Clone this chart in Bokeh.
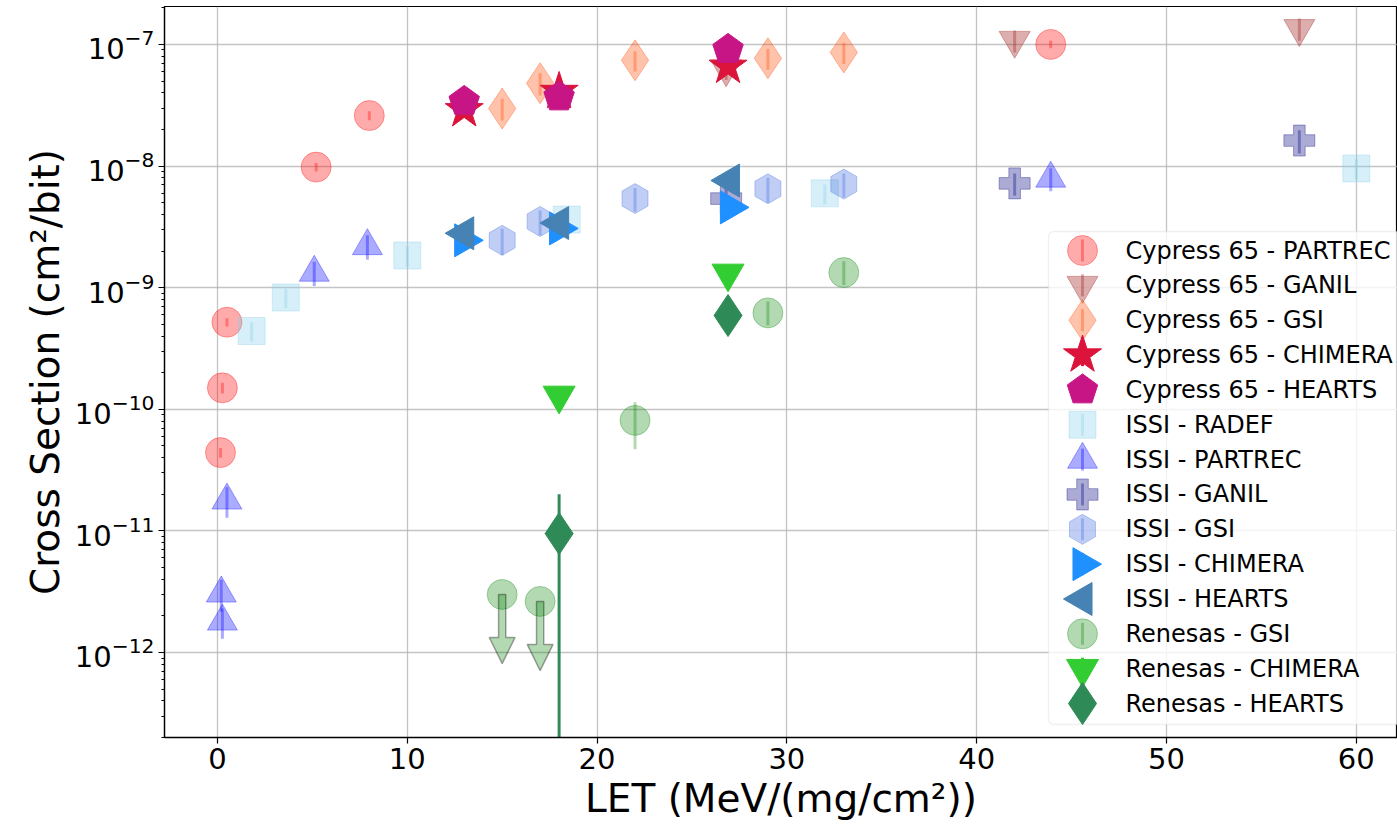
import numpy as np
from bokeh.plotting import figure
from bokeh.models import (Range1d, LinearScale, FixedTicker, ColumnDataSource,
                          BoxAnnotation)
from bokeh.core.properties import value
from bokeh.embed import file_html
from bokeh.resources import INLINE

# ---------------- data ----------------
cyp_partrec_x = [0.16, 0.26, 0.5, 5.2, 8.0, 43.9]
cyp_partrec_y = [4.4e-11, 1.5e-10, 5.2e-10, 9.8e-9, 2.6e-8, 1.0e-7]
cyp_partrec_err = [4e-12, 1.5e-11, 4e-11, 8e-10, 2.2e-9, 7e-9]

cyp_ganil_x = [26.8, 42.0, 57.0]
cyp_ganil_y = [6.3e-8, 1.08e-7, 1.35e-7]
cyp_ganil_err = [1.2e-8, 2.2e-8, 2.8e-8]

cyp_gsi_x = [15.0, 17.0, 22.0, 29.0, 33.0]
cyp_gsi_y = [2.97e-8, 4.8e-8, 7.4e-8, 7.7e-8, 8.6e-8]
cyp_gsi_err = [6e-9, 1e-8, 1.4e-8, 1.5e-8, 1.7e-8]

cyp_chimera_x = [13.0, 18.0, 26.9]
cyp_chimera_y = [2.9e-8, 4.1e-8, 6.6e-8]
cyp_chimera_err = [2e-9, 3e-9, 5e-9]

cyp_hearts_x = [13.0, 18.0, 26.9]
cyp_hearts_y = [3.4e-8, 3.7e-8, 9.1e-8]
cyp_hearts_err = [2e-9, 3e-9, 6e-9]

issi_radef_x = [1.8, 3.6, 10.0, 18.4, 32.0, 60.0]
issi_radef_y = [4.4e-10, 8.3e-10, 1.84e-9, 3.63e-9, 5.96e-9, 9.55e-9]
issi_radef_err = [8e-11, 1.5e-10, 3.5e-10, 7e-10, 1.1e-9, 1.8e-9]

issi_partrec_x = [0.2, 0.26, 0.5, 5.1, 7.9, 43.9]
issi_partrec_y = [3.06e-12, 1.8e-12, 1.78e-11, 1.33e-9, 2.2e-9, 7.9e-9]
issi_partrec_err = [9e-13, 5e-13, 5e-12, 3e-10, 5e-10, 1.7e-9]

issi_ganil_x = [26.8, 42.0, 57.0]
issi_ganil_y = [5.4e-9, 7.2e-9, 1.62e-8]
issi_ganil_err = [1.2e-9, 1.5e-9, 3.5e-9]

issi_gsi_x = [15.0, 17.0, 22.0, 29.0, 33.0]
issi_gsi_y = [2.45e-9, 3.5e-9, 5.4e-9, 6.5e-9, 7.1e-9]
issi_gsi_err = [6e-10, 8e-10, 1.2e-9, 1.5e-9, 1.6e-9]

issi_chimera_x = [13.0, 18.0, 27.0]
issi_chimera_y = [2.45e-9, 3.07e-9, 4.57e-9]
issi_chimera_err = [4e-10, 5e-10, 7e-10]

issi_hearts_x = [13.0, 18.0, 27.0]
issi_hearts_y = [2.8e-9, 3.4e-9, 7.6e-9]
issi_hearts_err = [4e-10, 5e-10, 1.1e-9]

ren_gsi_x = [15.0, 17.0, 22.0, 29.0, 33.0]
ren_gsi_y = [3.0e-12, 2.63e-12, 8.1e-11, 6.2e-10, 1.33e-9]
ren_gsi_err_lo = [0.0, 0.0, 3.4e-11, 1.3e-10, 2.8e-10]
ren_gsi_err_hi = [0.0, 0.0, 3.3e-11, 1.5e-10, 3.2e-10]
ren_gsi_limit_x = [15.0, 17.0]
ren_gsi_limit_from = [3.0e-12, 2.63e-12]
ren_gsi_limit_to = [8.1e-13, 7.1e-13]

ren_chimera_x = [18.0, 26.9]
ren_chimera_y = [1.3e-10, 1.31e-9]
ren_chimera_err = [1.5e-11, 1.5e-10]

ren_hearts_x = [18.0, 26.9]
ren_hearts_y = [9.5e-12, 5.9e-10]
ren_hearts_err_lo = [9.49e-12, 1e-10]
ren_hearts_err_hi = [1.05e-11, 1.1e-10]

x_ticks = [0, 10, 20, 30, 40, 50, 60]
y_ticks = [1e-12, 1e-11, 1e-10, 1e-9, 1e-8, 1e-7]

# ---------------- figure ----------------
FONT = "DejaVu Sans"
FRAME_W, FRAME_H = 1233, 731
p = figure(width=1397, height=827,
           x_range=Range1d(-2.79, 62.17), y_range=Range1d(2.0e-13, 2.05e-7),
           y_axis_type="log", output_backend="svg", toolbar_location=None,
           min_border_left=164, min_border_right=0, min_border_top=6, min_border_bottom=90,
           background_fill_color="white", border_fill_color="white")

# pixel-like coordinate system for the legend block (origin = top-left of frame)
p.extra_x_ranges = {"px": Range1d(0, FRAME_W)}
p.extra_y_ranges = {"py": Range1d(FRAME_H, 0)}
p.extra_x_scales = {"px": LinearScale()}
p.extra_y_scales = {"py": LinearScale()}

p.outline_line_color = "black"
p.outline_line_width = 1.2

p.xaxis.ticker = FixedTicker(ticks=x_ticks)
y_minor = [k * 10.0 ** e for e in range(-13, -6) for k in range(2, 10)]
p.yaxis.ticker = FixedTicker(ticks=y_ticks, minor_ticks=y_minor)

for ax in (p.xaxis[0], p.yaxis[0]):
    ax.major_label_text_font = FONT
    ax.major_label_text_font_size = "29px"
    ax.major_label_text_color = "black"
    ax.axis_label_text_font = FONT
    ax.axis_label_text_font_size = "39px"
    ax.axis_label_text_font_style = "normal"
    ax.axis_label_text_color = "black"
    ax.axis_line_color = "black"
    ax.axis_line_width = 1.3
    ax.major_tick_line_color = "black"
    ax.major_tick_line_width = 1.2
    ax.major_tick_out = 6
    ax.major_tick_in = 0
    ax.minor_tick_line_color = "black"
    ax.minor_tick_out = 3
    ax.minor_tick_in = 0
    ax.major_label_standoff = 4
    ax.axis_label_standoff = 4

p.xaxis.minor_tick_line_color = None
p.xaxis.axis_label = "LET (MeV/(mg/cm²))"
p.yaxis.axis_label = "Cross Section (cm²/bit)"

p.grid.grid_line_color = "#b0b0b0"
p.grid.grid_line_alpha = 0.75
p.grid.grid_line_width = 1.3

# ---------------- series ----------------
series = [
    ("Cypress 65 - PARTREC", cyp_partrec_x, cyp_partrec_y, cyp_partrec_err, cyp_partrec_err, "circle", "red", 0.33, 30, 0.0),
    ("Cypress 65 - GANIL", cyp_ganil_x, cyp_ganil_y, cyp_ganil_err, cyp_ganil_err, "inverted_triangle", "brown", 0.38, 31, 0.0),
    ("Cypress 65 - GSI", cyp_gsi_x, cyp_gsi_y, cyp_gsi_err, cyp_gsi_err, "diamond", "orangered", 0.33, 41, 0.0),
    ("Cypress 65 - CHIMERA", cyp_chimera_x, cyp_chimera_y, cyp_chimera_err, cyp_chimera_err, "star", "crimson", 1.0, 40, 0.0),
    ("Cypress 65 - HEARTS", cyp_hearts_x, cyp_hearts_y, cyp_hearts_err, cyp_hearts_err, "pentagon", "mediumvioletred", 1.0, 32, 0.0),
    ("ISSI - RADEF", issi_radef_x, issi_radef_y, issi_radef_err, issi_radef_err, "square", "skyblue", 0.33, 27, 0.0),
    ("ISSI - PARTREC", issi_partrec_x, issi_partrec_y, issi_partrec_err, issi_partrec_err, "triangle", "blue", 0.33, 30, 0.0),
    ("ISSI - GANIL", issi_ganil_x, issi_ganil_y, issi_ganil_err, issi_ganil_err, "plus", "navy", 0.33, 31, 0.0),
    ("ISSI - GSI", issi_gsi_x, issi_gsi_y, issi_gsi_err, issi_gsi_err, "hex", "royalblue", 0.33, 30, np.pi / 2),
    ("ISSI - CHIMERA", issi_chimera_x, issi_chimera_y, issi_chimera_err, issi_chimera_err, "triangle", "dodgerblue", 1.0, 33, -np.pi / 2),
    ("ISSI - HEARTS", issi_hearts_x, issi_hearts_y, issi_hearts_err, issi_hearts_err, "triangle", "steelblue", 1.0, 33, np.pi / 2),
    ("Renesas - GSI", ren_gsi_x, ren_gsi_y, ren_gsi_err_lo, ren_gsi_err_hi, "circle", "green", 0.3, 30, 0.0),
    ("Renesas - CHIMERA", ren_chimera_x, ren_chimera_y, ren_chimera_err, ren_chimera_err, "inverted_triangle", "limegreen", 1.0, 32, 0.0),
    ("Renesas - HEARTS", ren_hearts_x, ren_hearts_y, ren_hearts_err_lo, ren_hearts_err_hi, "diamond", "seagreen", 1.0, 42, 0.0),
]


def draw_marker(src, marker, color, alpha, size, angle, **kw):
    if marker == "pentagon":
        return p.ngon(x="x", y="y", radius=size / 2, radius_units="screen", n=5,
                      angle=0.0, source=src,
                      fill_color=color, fill_alpha=alpha,
                      line_color=color, line_alpha=alpha, line_width=1, **kw)
    return p.scatter(x="x", y="y", source=src, marker=marker, size=size, angle=angle,
                     fill_color=color, fill_alpha=alpha,
                     line_color=color, line_alpha=alpha, line_width=1, **kw)


for label, xs, ys, lo, hi, marker, color, alpha, size, angle in series:
    src = ColumnDataSource(dict(
        x=list(xs), y=list(ys),
        ylo=[yv - l for yv, l in zip(ys, lo)],
        yhi=[yv + h for yv, h in zip(ys, hi)],
    ))
    p.segment(x0="x", y0="ylo", x1="x", y1="yhi", source=src,
              line_color=color, line_alpha=alpha, line_width=3)
    draw_marker(src, marker, color, alpha, size, angle)

# upper-limit arrows for Renesas - GSI
SHAFT_HALF = 0.19      # x data units
HEAD_HALF = 0.68       # x data units
HEAD_LEN_DEC = 0.215   # decades
arrow_xs, arrow_ys = [], []
for xv, y0, yt in zip(ren_gsi_limit_x, ren_gsi_limit_from, ren_gsi_limit_to):
    yb = 10 ** (np.log10(yt) + HEAD_LEN_DEC)
    arrow_xs.append([xv - SHAFT_HALF, xv + SHAFT_HALF, xv + SHAFT_HALF, xv + HEAD_HALF,
                     xv, xv - HEAD_HALF, xv - SHAFT_HALF])
    arrow_ys.append([y0, y0, yb, yb, yt, yb, yb])
p.patches(xs=arrow_xs, ys=arrow_ys, fill_color="green", fill_alpha=0.3,
          line_color="black", line_alpha=0.35, line_width=1.5)

# ---------------- legend (frame pixel coordinates, from top-left) ----------------
LEG_LEFT, LEG_TOP, LEG_BOTTOM, LEG_RIGHT = 884, 225, 718, 1260
ROW0, ROW_PITCH = 244, 34.85
GLYPH_X, TEXT_X = 918, 961

box = BoxAnnotation(left=LEG_LEFT, right=LEG_RIGHT, top=LEG_TOP, bottom=LEG_BOTTOM,
                    x_range_name="px", y_range_name="py",
                    fill_color="white", fill_alpha=0.8,
                    line_color="#cccccc", line_width=1.3, border_radius=5)
p.add_layout(box)

for i, (label, xs, ys, lo, hi, marker, color, alpha, size, angle) in enumerate(series):
    ry = ROW0 + i * ROW_PITCH
    lsrc = ColumnDataSource(dict(x=[GLYPH_X], y=[ry], ylo=[ry + 11], yhi=[ry - 11]))
    seg = p.segment(x0="x", y0="ylo", x1="x", y1="yhi", source=lsrc,
                    line_color=color, line_alpha=alpha, line_width=3,
                    x_range_name="px", y_range_name="py")
    seg.level = "overlay"
    r = draw_marker(lsrc, marker, color, alpha, size, angle,
                    x_range_name="px", y_range_name="py")
    r.level = "overlay"
    t = p.text(x=[TEXT_X], y=[ry], text=[label], x_range_name="px", y_range_name="py",
               text_font=value(FONT), text_font_size="24px", text_color="black",
               text_baseline="middle", text_align="left")
    t.level = "overlay"

open("out.html", "w").write(file_html(p, INLINE))
